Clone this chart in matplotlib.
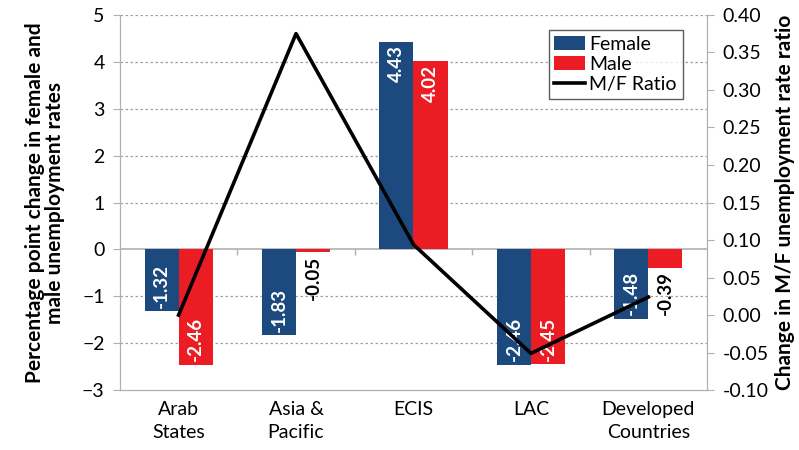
import matplotlib.pyplot as plt
import numpy as np

plt.rcParams['font.family'] = ['Lato', 'DejaVu Sans']

categories = ["Arab\nStates", "Asia &\nPacific", "ECIS", "LAC", "Developed\nCountries"]
female = [-1.32, -1.83, 4.43, -2.46, -1.48]
male = [-2.46, -0.05, 4.02, -2.45, -0.39]
mf_ratio = [0.00, 0.375, 0.094, -0.051, 0.024]

BLUE = "#1c4a7e"
RED = "#ec1c24"
GRAY = "#b0b0b0"
W = 0.29
FS = 14

fig = plt.figure(figsize=(7.99, 4.5), dpi=100)
ax = fig.add_axes([0.150, 0.133, 0.735, 0.834])
x = np.arange(len(categories))

bf = ax.bar(x - W / 2, female, width=W, color=BLUE, label="Female", zorder=3)
bm = ax.bar(x + W / 2, male, width=W, color=RED, label="Male", zorder=3)

ax.set_xlim(-0.5, len(categories) - 0.5)
ax.set_ylim(-3, 5)
ax.set_yticks(range(-3, 6))
ax.set_xticks(x)
ax.set_xticklabels(categories, fontsize=FS, linespacing=1.4)
ax.tick_params(axis='x', length=0, pad=8)
ax.tick_params(axis='y', labelsize=FS, color=GRAY, length=5, pad=6)
for yv in range(-2, 6):
    if yv != 0:
        ax.axhline(yv, color="#a0a0a0", lw=0.9, ls=(0, (2, 2)), zorder=1)
ax.axhline(0, color=GRAY, lw=1.2, zorder=2)
# category separator ticks on the zero line
ax.vlines(x[:-1] + 0.5, -0.12, 0, color=GRAY, lw=1.0, zorder=2)
for s in ["left", "right", "bottom"]:
    ax.spines[s].set_color(GRAY)
ax.spines["top"].set_visible(False)

# bar labels
def label_bars(bars, vals):
    for b, v in zip(bars, vals):
        cx = b.get_x() + b.get_width() / 2
        txt = "%.2f" % v
        if abs(v) < 1:
            ax.text(cx, v - 0.08 if v < 0 else v + 0.08, txt, rotation=90, ha='center',
                    va='top' if v < 0 else 'bottom', color='black', fontsize=13.5,
                    fontweight='bold', zorder=5)
        else:
            ax.text(cx, v + 0.08 if v < 0 else v - 0.08, txt, rotation=90, ha='center',
                    va='bottom' if v < 0 else 'top', color='white', fontsize=13.5,
                    fontweight='bold', zorder=5)

label_bars(bf, female)
label_bars(bm, male)

ax.set_ylabel("Percentage point change in female and\nmale unemployment rates",
              fontsize=15, fontweight='bold', labelpad=12, linespacing=1.0)

ax2 = ax.twinx()
ln, = ax2.plot(x, mf_ratio, color='black', lw=2.6, label="M/F Ratio", zorder=4)
ax2.set_ylim(-0.10, 0.40)
ax2.set_yticks(np.arange(-0.10, 0.401, 0.05))
ax2.set_yticklabels(["%.2f" % v for v in np.arange(-0.10, 0.401, 0.05)])
ax2.tick_params(axis='y', labelsize=FS, color=GRAY, length=5, pad=6)
for s in ["left", "right", "bottom"]:
    ax2.spines[s].set_color(GRAY)
ax2.spines["top"].set_visible(False)
ax2.set_ylabel("Change in M/F unemployment rate ratio", fontsize=15,
               fontweight='bold', labelpad=5)

leg = ax2.legend([bf, bm, ln], ["Female", "Male", "M/F Ratio"], loc='upper right',
                 bbox_to_anchor=(0.975, 0.985), fontsize=FS, frameon=True,
                 fancybox=False, edgecolor='#333333', handlelength=1.6,
                 handletextpad=0.2, borderpad=0.3, labelspacing=0.15)
leg.get_frame().set_linewidth(1.0)

fig.savefig("out.png", dpi=100)
